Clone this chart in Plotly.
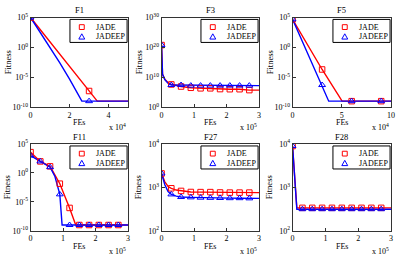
import plotly.graph_objects as go

# ---------------- data ----------------
f1_x_jade = [0, 30000, 34200, 50000]
f1_y_jade = [1e5, 5e-8, 1e-9, 1e-9]
f1_x_ep = [0, 5000, 10000, 15000, 20000, 26300, 30000, 50000]
f1_y_ep = [1e5, 3e2, 1e0, 2.5e-3, 5e-6, 1e-9, 1e-9, 1e-9]

f3_x = [0, 1000, 3000, 10000, 20000, 30000, 60000, 90000, 120000, 150000, 180000, 210000, 240000, 270000, 300000]
f3_y_jade = [6e20, 1e13, 1e11, 2e9, 1.6e8, 4e7, 8e6, 3e6, 2e6, 2e6, 1.1e6, 1e6, 1e6, 5e5, 5e5]
f3_y_ep = [6e20, 1e13, 1e11, 1.6e9, 1e8, 2.5e7, 2.5e7, 1.6e7, 1.6e7, 1.6e7, 1.6e7, 1.6e7, 1.6e7, 1.6e7, 1.6e7]

f5_x_jade = [0, 30000, 50300, 60000, 90000, 100000]
f5_y_jade = [5e4, 2e-4, 1e-9, 1e-9, 1e-9, 1e-9]
f5_x_ep = [0, 30000, 36700, 60000, 90000, 100000]
f5_y_ep = [5e4, 5e-7, 1e-9, 1e-9, 1e-9, 1e-9]

f11_x_jade = [0, 30000, 60000, 90000, 120000, 139000, 150000, 180000, 210000, 240000, 270000, 300000]
f11_y_jade = [4e3, 1e2, 1.4e1, 1.4e-2, 9e-7, 1e-9, 1e-9, 1e-9, 1e-9, 1e-9, 1e-9, 1e-9]
f11_x_ep = [0, 30000, 60000, 75000, 90000, 97000, 120000, 150000, 180000, 210000, 240000, 270000, 300000]
f11_y_ep = [1e3, 1e2, 1e1, 2.5e-1, 2e-4, 1e-9, 1e-9, 1e-9, 1e-9, 1e-9, 1e-9, 1e-9, 1e-9]

f27_x = [0, 10000, 20000, 30000, 45000, 60000, 90000, 120000, 150000, 180000, 210000, 240000, 270000, 300000]
f27_y_jade = [2100, 1350, 1050, 955, 870, 830, 785, 780, 780, 765, 760, 760, 760, 760]
f27_y_ep = [2100, 1150, 800, 690, 630, 600, 590, 580, 575, 570, 565, 565, 560, 560]

f28_x = [0, 13000, 30000, 60000, 90000, 120000, 150000, 180000, 210000, 240000, 270000, 300000]
f28_y_jade = [9000, 340, 338, 338, 338, 338, 338, 338, 338, 338, 338, 338]
f28_y_ep = [9000, 315, 315, 315, 315, 315, 315, 315, 315, 315, 315, 315]

titles = ["F1", "F3", "F5", "F11", "F27", "F28"]
legend_names = ["JADE", "JADEEP"]
xmax = [5e4, 3e5, 1e5, 3e5, 3e5, 3e5]
xscale = [1e4, 1e5, 1e4, 1e5, 1e5, 1e5]
xticks = [[0, 2, 4], [0, 1, 2, 3], [0, 5, 10], [0, 1, 2, 3], [0, 1, 2, 3], [0, 1, 2, 3]]
xexp = ["4", "5", "4", "5", "5", "5"]
ydec = [[5, 0, -5, -10], [30, 20, 10, 0], [5, 0, -5, -10], [5, 0, -5, -10], [4, 3, 2], [4, 3, 2]]
yrange = [[-10, 5], [0, 30], [-10, 5], [-10, 5], [2, 4], [2, 4]]

series = [
    (f1_x_jade, f1_y_jade, f1_x_ep, f1_y_ep),
    (f3_x, f3_y_jade, f3_x, f3_y_ep),
    (f5_x_jade, f5_y_jade, f5_x_ep, f5_y_ep),
    (f11_x_jade, f11_y_jade, f11_x_ep, f11_y_ep),
    (f27_x, f27_y_jade, f27_x, f27_y_ep),
    (f28_x, f28_y_jade, f28_x, f28_y_ep),
]
MARK_STEP = 30000

# ---------------- layout geometry (pixels) ----------------
W, H = 399, 266
col_px = [(29, 128), (162, 261), (295, 395)]
row_px = [(12, 105.5), (144, 234.5)]
FONT = "Liberation Serif"
RED = "#ff0000"
BLUE = "#0000ff"


def px(x):
    return x / W


def py(y):
    return 1 - y / H


fig = go.Figure()
layout = dict(
    width=W, height=H, margin=dict(l=0, r=0, t=0, b=0),
    paper_bgcolor="white", plot_bgcolor="white",
    font=dict(family=FONT, size=8, color="black"),
    showlegend=False,
)
annotations = []
shapes = []

for i in range(6):
    r, c = divmod(i, 3)
    x0, x1 = col_px[c]
    yt, yb = row_px[r]
    sfx = "" if i == 0 else str(i + 1)
    xa, ya = "x" + sfx, "y" + sfx

    xj, yj, xe, ye = series[i]
    fig.add_trace(go.Scatter(x=xj, y=yj, mode="lines", line=dict(color=RED, width=1.4),
                             xaxis=xa, yaxis=ya, hoverinfo="skip"))
    fig.add_trace(go.Scatter(x=xe, y=ye, mode="lines", line=dict(color=BLUE, width=1.4),
                             xaxis=xa, yaxis=ya, hoverinfo="skip"))
    mj = [(a, b) for a, b in zip(xj, yj) if a % MARK_STEP == 0 and a < xmax[i]]
    me = [(a, b) for a, b in zip(xe, ye) if a % MARK_STEP == 0 and a < xmax[i]]
    fig.add_trace(go.Scatter(x=[p[0] for p in mj], y=[p[1] for p in mj], mode="markers", name="JADE",
                             marker=dict(symbol="square-open", color=RED, size=5.5, line=dict(width=1)),
                             xaxis=xa, yaxis=ya))
    fig.add_trace(go.Scatter(x=[p[0] for p in me], y=[p[1] for p in me], mode="markers", name="JADEEP",
                             marker=dict(symbol="triangle-up-open", color=BLUE, size=6, line=dict(width=1)),
                             xaxis=xa, yaxis=ya))

    layout["xaxis" + sfx] = dict(
        domain=[x0 / W, x1 / W], anchor=ya, range=[0, xmax[i]],
        tickvals=[t * xscale[i] for t in xticks[i]], ticktext=[str(t) for t in xticks[i]],
        ticks="inside", ticklen=3, tickcolor="#333", showgrid=False, zeroline=False,
        showline=True, linecolor="#333", linewidth=1, mirror=True,
        tickfont=dict(size=8),
    )
    layout["yaxis" + sfx] = dict(
        domain=[1 - yb / H, 1 - yt / H], anchor=xa, type="log", range=yrange[i],
        tickvals=[10.0 ** d for d in ydec[i]], ticktext=["10<sup>%d</sup>" % d for d in ydec[i]],
        ticks="inside", ticklen=3, tickcolor="#333", showgrid=False, zeroline=False,
        showline=True, linecolor="#333", linewidth=1, mirror=True,
        tickfont=dict(size=8),
    )

    # axis titles
    annotations.append(dict(text="FEs", x=px((x0 + x1) / 2), y=py(yb + 16),
                            xref="paper", yref="paper", showarrow=False,
                            font=dict(size=8), xanchor="center", yanchor="middle"))
    annotations.append(dict(text="Fitness", x=px(x0 - 23), y=py((yt + yb) / 2),
                            xref="paper", yref="paper", showarrow=False, textangle=-90,
                            font=dict(size=8.5), xanchor="center", yanchor="middle"))

    # manual legend box
    lx0, lx1 = x1 - 59, x1 - 1
    ly0, ly1 = yt + 2, yt + 26
    shapes.append(dict(type="rect", xref="paper", yref="paper",
                       x0=px(lx0), x1=px(lx1), y0=py(ly1), y1=py(ly0),
                       line=dict(color="black", width=1), fillcolor="white", layer="above"))
    sx, sy = lx0 + 12, ly0 + 8
    shapes.append(dict(type="rect", xref="paper", yref="paper",
                       x0=px(sx - 2.5), x1=px(sx + 2.5), y0=py(sy + 2.5), y1=py(sy - 2.5),
                       line=dict(color=RED, width=1), layer="above"))
    tx, ty = lx0 + 12, ly0 + 18
    path = "M %f %f L %f %f L %f %f Z" % (px(tx - 3), py(ty + 2.5), px(tx + 3), py(ty + 2.5), px(tx), py(ty - 3))
    shapes.append(dict(type="path", xref="paper", yref="paper", path=path,
                       line=dict(color=BLUE, width=1), layer="above"))
    for k, nm in enumerate(legend_names):
        annotations.append(dict(text=nm, x=px(lx0 + 24), y=py(ly0 + 8 + 10 * k),
                                xref="paper", yref="paper", showarrow=False,
                                font=dict(size=8), xanchor="left", yanchor="middle"))

    annotations.append(dict(text=titles[i], x=(x0 + x1) / 2 / W, y=py(yt - 7.5),
                            xref="paper", yref="paper", showarrow=False,
                            font=dict(size=8.5), xanchor="center", yanchor="middle"))
    annotations.append(dict(text="x 10<sup>%s</sup>" % xexp[i], x=px(x1), y=py(yb + 21),
                            xref="paper", yref="paper", showarrow=False,
                            font=dict(size=8), xanchor="right", yanchor="middle"))

layout["annotations"] = annotations
layout["shapes"] = shapes
fig.update_layout(**layout)
fig.write_html("out.html")
